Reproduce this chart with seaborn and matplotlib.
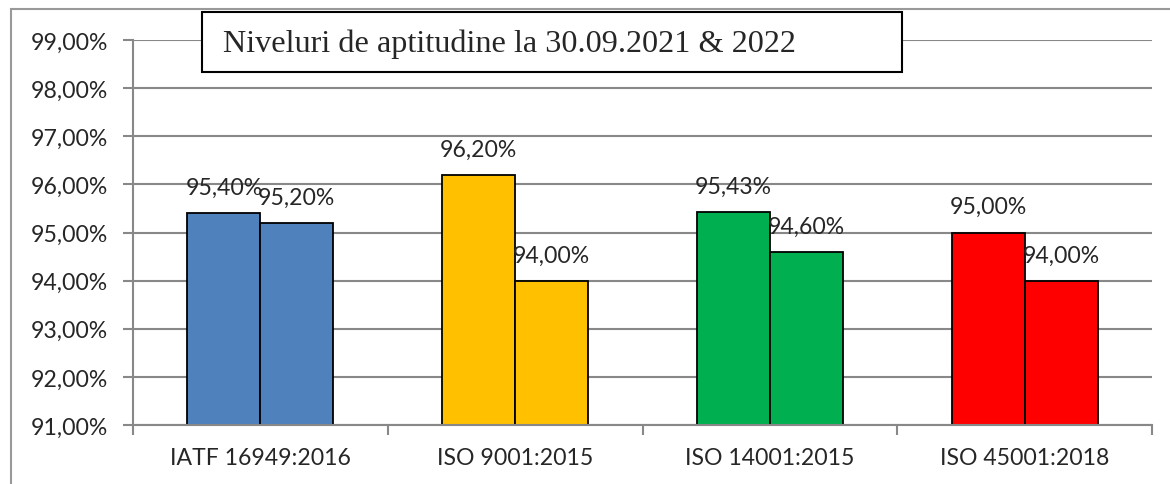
import pandas as pd
import numpy as np
import matplotlib
matplotlib.use("Agg")
import matplotlib.pyplot as plt
import seaborn as sns
from matplotlib.ticker import FuncFormatter, FixedLocator
from matplotlib.patches import Rectangle

# data
categories = ["IATF 16949:2016", "ISO 9001:2015", "ISO 14001:2015", "ISO 45001:2018"]
values_2021 = [95.40, 96.20, 95.43, 95.00]
values_2022 = [95.20, 94.00, 94.60, 94.00]
years = ["2021", "2022"]
category_colors = ["#4F81BD", "#FFC000", "#00B050", "#FF0000"]
title_text = "Niveluri de aptitudine la 30.09.2021 & 2022"

df = pd.DataFrame({
    "category": categories * 2,
    "value": values_2021 + values_2022,
    "year": [years[0]] * 4 + [years[1]] * 4,
})

sns.set_style("white")
plt.rcParams["font.family"] = ["Lato", "DejaVu Sans"]

W, H = 1170, 485
fig = plt.figure(figsize=(W / 100, H / 100), dpi=100)
ax = fig.add_axes([133 / W, 1 - 426 / H, (1152 - 133) / W, (426 - 41) / H])

sns.barplot(data=df, x="category", y="value", hue="year", order=categories,
            hue_order=years, width=0.573, legend=False, ax=ax,
            edgecolor="black", linewidth=1.3, saturation=1)

# colour by category, not by year
for cont in ax.containers:
    for bar, col in zip(cont, category_colors):
        bar.set_facecolor(col)
        bar.set_edgecolor("black")

ax.set_ylim(91, 99)
ax.set_xlim(-0.5, 3.5)
ax.set_yticks(np.arange(91, 100, 1))
ax.yaxis.set_major_formatter(FuncFormatter(lambda v, p: f"{v:.2f}%".replace(".", ",")))
ax.grid(axis="y", color="#888888", linewidth=1.5)
ax.set_axisbelow(True)
ax.set_xlabel("")
ax.set_ylabel("")

for s in ["top", "right"]:
    ax.spines[s].set_visible(False)
for s in ["left", "bottom"]:
    ax.spines[s].set_color("#888888")
    ax.spines[s].set_linewidth(1.5)

fs = 16.6
ax.tick_params(axis="y", length=7, width=1.5, color="#888888", direction="out",
               pad=11, labelsize=fs, left=True)
ax.tick_params(axis="x", which="major", length=0, pad=16, labelsize=fs)
ax.xaxis.set_minor_locator(FixedLocator(np.arange(-0.5, 4, 1)))
ax.tick_params(axis="x", which="minor", length=7, width=1.5, color="#888888",
               direction="out", bottom=True)

# value labels above each bar
for cont in ax.containers:
    labels = [f"{b.get_height():.2f}%".replace(".", ",") for b in cont]
    ax.bar_label(cont, labels=labels, padding=11, fontsize=fs)

# outer chart frame (only top and left visible inside the picture)
fig.patches.append(Rectangle((11 / W, -0.1), 1.2, 1 - 10 / H + 0.1,
                             transform=fig.transFigure, fill=False,
                             edgecolor="#999999", linewidth=1.5))

# boxed title
fig.patches.append(Rectangle((202 / W, 1 - 73 / H), 700 / W, 60 / H,
                             transform=fig.transFigure, facecolor="white",
                             edgecolor="black", linewidth=1.5, zorder=5))
fig.text(223 / W, 1 - 52 / H, title_text, family="Liberation Serif",
         fontsize=23.2, va="baseline", ha="left", zorder=6)

fig.savefig("out.png", dpi=100)
